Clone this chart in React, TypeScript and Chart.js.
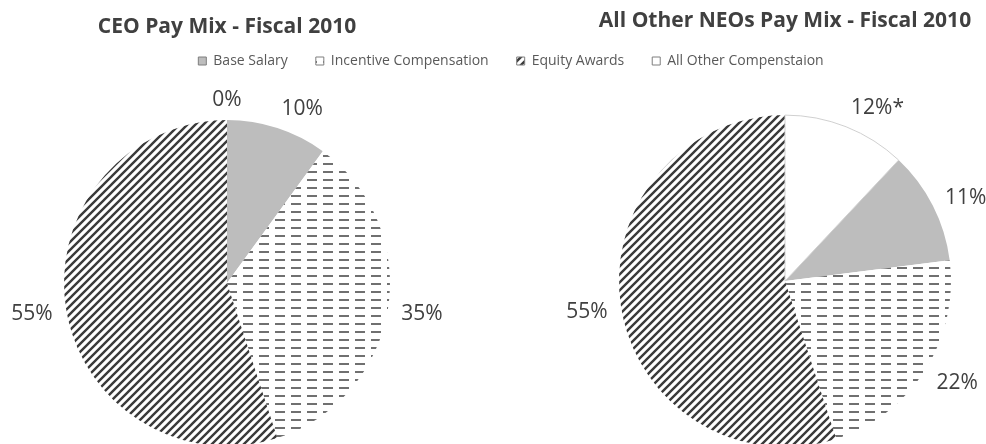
import { useEffect, useRef } from "react";
import Chart from "chart.js/auto";

const categories = ["Base Salary", "Incentive Compensation", "Equity Awards", "All Other Compenstaion"];
const ceoValues = [10, 35, 55, 0];
const neoValues = [11, 22, 55, 12];
const ceoNotes = ["", "", "", ""];
const neoNotes = ["", "", "", "*"];
const ceoTitle = "CEO Pay Mix - Fiscal 2010";
const neoTitle = "All Other NEOs Pay Mix - Fiscal 2010";

const FONT = "'Open Sans', 'DejaVu Sans', sans-serif";

const makeTile = (w: number, h: number, draw: (ctx: CanvasRenderingContext2D) => void) => {
    const c = document.createElement("canvas");
    c.width = w;
    c.height = h;
    const ctx = c.getContext("2d")!;
    ctx.fillStyle = "#ffffff";
    ctx.fillRect(0, 0, w, h);
    draw(ctx);
    return ctx.createPattern(c, "repeat")!;
};

// one fill per category: solid grey, dashes, diagonals, white
const makeFills = () => {
    const dashes = makeTile(16, 8, (ctx) => {
        ctx.fillStyle = "#707070";
        ctx.fillRect(3, 3, 10, 2);
    });
    const diagonals = makeTile(8, 8, (ctx) => {
        ctx.strokeStyle = "#3a3a3a";
        ctx.lineWidth = 2.4;
        ctx.beginPath();
        ctx.moveTo(0, 8); ctx.lineTo(8, 0);
        ctx.moveTo(-1, 1); ctx.lineTo(1, -1);
        ctx.moveTo(7, 9); ctx.lineTo(9, 7);
        ctx.stroke();
    });
    return ["#bdbdbd", dashes, diagonals, "#ffffff"];
};

// "outside end" labels: anchored just outside the arc, pushed away by their own size
const outsideLabels = {
    id: "outsideLabels",
    afterDatasetsDraw(chart: any) {
        const { ctx } = chart;
        const ds = chart.data.datasets[0];
        const meta = chart.getDatasetMeta(0);
        const size = 21;
        const h = 16;
        ctx.save();
        ctx.font = `${size}px ${FONT}`;
        ctx.fillStyle = "#404040";
        ctx.textAlign = "center";
        ctx.textBaseline = "alphabetic";
        meta.data.forEach((el: any, i: number) => {
            const { x, y, startAngle, endAngle, outerRadius } = el.getProps(
                ["x", "y", "startAngle", "endAngle", "outerRadius"], true);
            const mid = (startAngle + endAngle) / 2;
            const text = `${ds.data[i]}%${ds.notes[i]}`;
            const w = ctx.measureText(text).width;
            const c = Math.cos(mid);
            const s = Math.sin(mid);
            const d = outerRadius + 13.5;
            const cx = x + d * c + Math.sign(c) * Math.min(1, 4 * Math.abs(c)) * (w / 2);
            const cy = y + d * s + s * (h / 2);
            ctx.fillText(text, cx, cy + size * 0.36);
        });
        ctx.restore();
    },
};

interface PieProps {
    values: number[];
    notes: string[];
    title: string;
    radius: number;
    rotation: number;
    titlePad: { top: number; bottom: number };
    padding: { left: number; right: number; bottom: number };
    left: number;
}

const PayPie = ({ values, notes, title, radius, rotation, titlePad, padding, left }: PieProps) => {
    const canvasRef = useRef<HTMLCanvasElement>(null);

    useEffect(() => {
        if (!canvasRef.current) return;
        const fills = makeFills();
        const chart = new Chart(canvasRef.current, {
            type: "pie",
            data: {
                labels: categories,
                datasets: [{
                    data: values,
                    notes,
                    backgroundColor: fills,
                    borderColor: "#d0d0d0",
                    borderWidth: values.map((v, i) => (i === 3 && v > 0 ? 1 : 0)),
                    radius,
                } as any],
            },
            options: {
                responsive: false,
                animation: false,
                events: [],
                rotation,
                layout: { padding: { left: padding.left, right: padding.right, top: 0, bottom: padding.bottom } },
                plugins: {
                    legend: { display: false },
                    tooltip: { enabled: false },
                    title: {
                        display: true,
                        text: title,
                        color: "#404040",
                        font: { family: FONT, size: 21, weight: "bold" },
                        padding: titlePad,
                    },
                },
            },
            plugins: [outsideLabels],
        });
        return () => chart.destroy();
    }, [values, notes, title, radius, rotation]);

    return <canvas ref={canvasRef} width={460} height={560} style={{ position: "absolute", left, top: 0 }} />;
};

const SharedLegend = () => {
    const canvasRef = useRef<HTMLCanvasElement>(null);

    useEffect(() => {
        if (!canvasRef.current) return;
        const fills = makeFills();
        const chart = new Chart(canvasRef.current, {
            type: "pie",
            data: {
                labels: categories,
                datasets: [{ data: ceoValues, backgroundColor: fills, borderWidth: 0, radius: 0 }],
            },
            options: {
                responsive: false,
                animation: false,
                events: [],
                layout: { padding: { left: 36 } },
                plugins: {
                    tooltip: { enabled: false },
                    legend: {
                        display: true,
                        position: "top",
                        labels: {
                            boxWidth: 8,
                            boxHeight: 8,
                            padding: 28,
                            color: "#595959",
                            font: { family: FONT, size: 14 },
                            generateLabels: () => categories.map((text, i) => ({
                                text,
                                fillStyle: fills[i] as any,
                                strokeStyle: "#7f7f7f",
                                lineWidth: 1,
                                hidden: false,
                                index: i,
                                fontColor: "#595959",
                            })),
                        },
                    },
                },
            },
        });
        return () => chart.destroy();
    }, []);

    return <canvas ref={canvasRef} width={986} height={130} style={{ position: "absolute", left: 0, top: 26 }} />;
};

const neoRotation = (neoValues[3] / neoValues.reduce((a, b) => a + b, 0)) * 360;

export default function App() {
    return (
        <div style={{ position: "fixed", left: 0, top: 0, width: 986, height: 444, overflow: "hidden", background: "#ffffff" }}>
            <SharedLegend />
            <PayPie
                values={ceoValues}
                notes={ceoNotes}
                title={ceoTitle}
                radius={163}
                rotation={0}
                titlePad={{ top: 14, bottom: 61 }}
                padding={{ left: 40, right: 46, bottom: 94 }}
                left={0}
            />
            <PayPie
                values={neoValues}
                notes={neoNotes}
                title={neoTitle}
                radius={166}
                rotation={neoRotation}
                titlePad={{ top: 8, bottom: 67 }}
                padding={{ left: 58, right: 0, bottom: 98 }}
                left={526}
            />
        </div>
    );
}
